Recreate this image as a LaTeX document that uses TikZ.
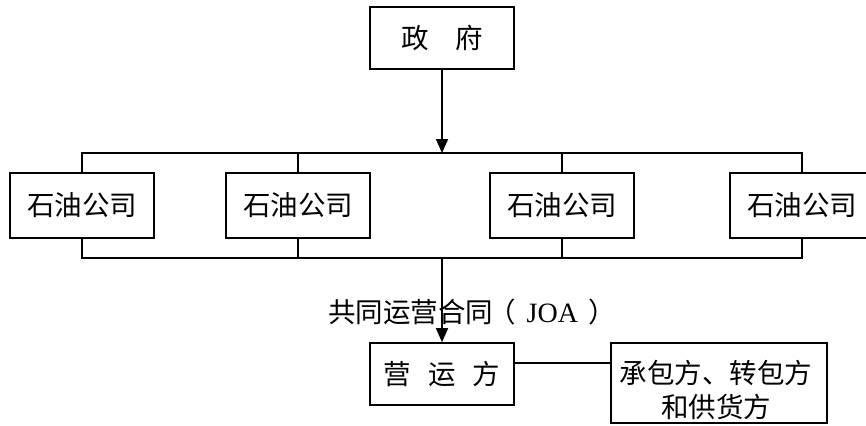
\documentclass[tikz,border=0pt]{standalone}
\usepackage{fontspec}
\newfontfamily\cjk{Noto Sans CJK SC}
\newfontfamily\tnr{Liberation Serif}
\usetikzlibrary{arrows.meta}
\begin{document}
\begin{tikzpicture}[x=1pt,y=-1pt,
  txt/.style={inner sep=0pt,font=\cjk\fontsize{27.5}{34}\selectfont},
  box/.style={draw,line width=1.6pt,txt},
  wire/.style={line width=1.6pt},
  arr/.style={wire,-{Triangle[width=12pt,length=14pt]}}]
\path[use as bounding box] (0,0) rectangle (866,425);
\node[box,minimum width=144pt,minimum height=62pt] (gov) at (442,38) {政\hspace{27pt}府};
\node[box,minimum width=144pt,minimum height=65pt] (o1) at (82,205.5) {石油公司\hspace{8pt}};
\node[box,minimum width=144pt,minimum height=65pt] (o2) at (298,205.5) {石油公司\hspace{8pt}};
\node[box,minimum width=144pt,minimum height=65pt] (o3) at (562,205.5) {石油公司\hspace{8pt}};
\node[box,minimum width=144pt,minimum height=65pt] (o4) at (802,205.5) {石油公司\hspace{8pt}};
\node[box,minimum width=144pt,minimum height=62pt] (op) at (442,374) {营\hspace{17pt}运\hspace{17pt}方};
\node[box,minimum width=216pt,minimum height=80pt] (sup) at (719,383) {};
\node[txt,align=center] (suptext) at (716,390) {承包方、转包方\\和供货方};
\node[anchor=west,txt] (joa) at (328,312) {共同运营合同\hspace{-5pt}（\hspace{11pt}{\tnr\fontsize{28}{30}\selectfont JOA}\hspace{10pt}）};
\coordinate (tb) at (442,153);
\coordinate (bb) at (442,258);
\coordinate (lk) at (0,363);
\draw[wire] (o1.north) |- (tb) -| (o4.north);
\draw[wire] (o2.north) -- (o2.north |- tb);
\draw[wire] (o3.north) -- (o3.north |- tb);
\draw[wire] (o1.south) |- (bb) -| (o4.south);
\draw[wire] (o2.south) -- (o2.south |- bb);
\draw[wire] (o3.south) -- (o3.south |- bb);
\draw[arr] (gov) -- (tb);
\draw[arr] (bb) -- (op);
\draw[wire] (lk -| op.east) -- (lk -| sup.west);
\end{tikzpicture}
\end{document}
